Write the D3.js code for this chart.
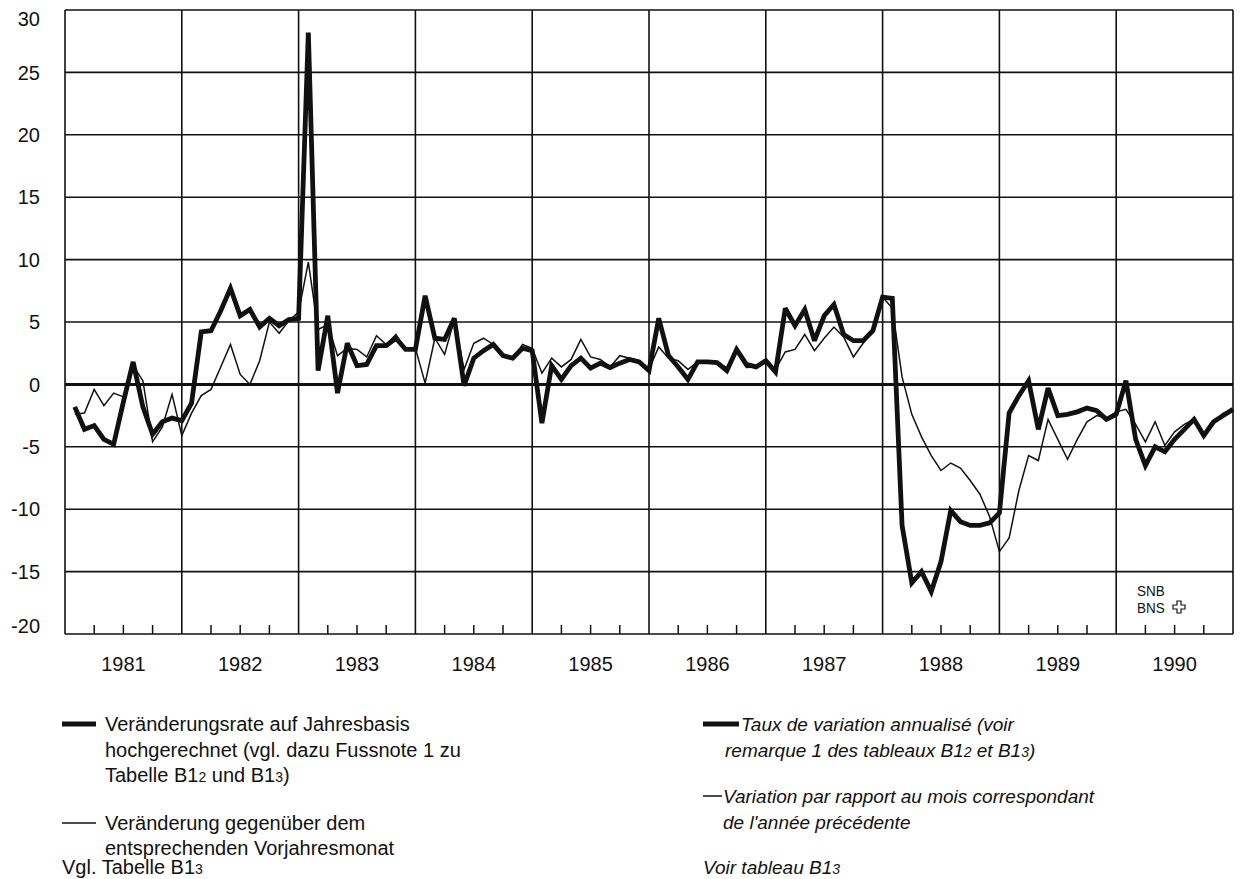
<!DOCTYPE html>
<html>
<head>
<meta charset="utf-8">
<script src="https://cdn.jsdelivr.net/npm/d3@7"></script>
<style>
  body { margin: 0; background: #fff; }
  svg { display: block; }
  text { font-family: "Liberation Sans", Arial, sans-serif; fill: #111; }
</style>
</head>
<body>
<div id="chart"></div>
<script>
// Years on the x axis, one value per month for each series
const years = [1981, 1982, 1983, 1984, 1985, 1986, 1987, 1988, 1989, 1990];
const yTicks = [-20, -15, -10, -5, 0, 5, 10, 15, 20, 25, 30];

// Veränderungsrate auf Jahresbasis hochgerechnet (thick line)
const annualized = [
  -1.8, -3.6, -3.3, -4.4, -4.8, -1.4, 1.8, -1.8, -4.0, -3.0, -2.7, -2.9,
  -1.5, 4.2, 4.3, 5.9, 7.7, 5.5, 6.0, 4.6, 5.3, 4.7, 5.2, 5.3,
  28.2, 1.1, 5.5, -0.7, 3.3, 1.5, 1.6, 3.1, 3.1, 3.7, 2.8, 2.8,
  7.1, 3.7, 3.6, 5.3, -0.1, 2.1, 2.7, 3.2, 2.3, 2.1, 2.9, 2.7,
  -3.1, 1.5, 0.4, 1.5, 2.1, 1.3, 1.7, 1.35, 1.7, 2.0, 1.8, 1.1,
  5.3, 2.3, 1.4, 0.4, 1.8, 1.8, 1.75, 1.1, 2.8, 1.6, 1.4, 1.9,
  1.0, 6.1, 4.7, 6.0, 3.5, 5.5, 6.4, 4.0, 3.5, 3.5, 4.3, 7.0,
  6.9, -11.3, -15.9, -15.0, -16.6, -14.2, -10.1, -11.0, -11.3, -11.3, -11.1, -10.3,
  -2.3, -0.9, 0.3, -3.6, -0.3, -2.5, -2.4, -2.2, -1.9, -2.1, -2.8, -2.4,
  0.3, -4.4, -6.5, -5.0, -5.4, -4.4, -3.6, -2.8, -4.1, -3.0, -2.5, -2.0
];

// Veränderung gegenüber dem entsprechenden Vorjahresmonat (thin line)
const yearOnYear = [
  -2.4, -2.3, -0.4, -1.7, -0.7, -1.0, 1.5, 0.3, -4.6, -3.4, -0.8, -4.1,
  -2.3, -0.9, -0.4, 1.4, 3.2, 0.8, 0.0, 1.9, 5.0, 4.1, 5.1, 5.8,
  9.8, 4.4, 4.8, 2.3, 2.9, 2.8, 2.2, 3.9, 3.2, 4.0, 2.8, 2.9,
  0.1, 3.7, 2.4, 5.2, 1.2, 3.3, 3.7, 3.2, 2.4, 2.0, 3.2, 2.9,
  0.9, 2.1, 1.4, 2.0, 3.6, 2.2, 2.0, 1.4, 2.3, 2.1, 1.9, 1.2,
  3.0, 2.1, 1.9, 1.2, 1.8, 1.75, 1.75, 1.35, 2.6, 1.35, 1.4, 2.0,
  1.2, 2.6, 2.8, 4.0, 2.7, 3.7, 4.6, 3.8, 2.2, 3.3, 4.3, 7.0,
  6.1, 0.6, -2.4, -4.2, -5.7, -6.9, -6.3, -6.7, -7.7, -8.8, -10.6, -13.4,
  -12.3, -8.5, -5.7, -6.1, -2.8, -4.4, -6.0, -4.4, -3.0, -2.5, -2.7, -2.2,
  -2.0, -3.2, -4.6, -3.0, -4.9, -3.8, -3.2, -2.8, -4.0, -3.0, -2.3, -2.0
];

const width = 1240, height = 879;
const plot = { left: 65, right: 1233, top: 10, bottom: 634 };

const svg = d3.select("#chart").append("svg")
  .attr("width", width)
  .attr("height", height);

svg.append("rect").attr("width", width).attr("height", height).attr("fill", "#fff");

// months since Jan 1981; each value sits at the end of its month
const x = d3.scaleLinear()
  .domain([0, years.length * 12])
  .range([plot.left, plot.right]);
const y = d3.scaleLinear()
  .domain([-20, 30])
  .range([plot.bottom, plot.top]);

// horizontal grid
svg.append("g")
  .selectAll("line")
  .data(yTicks)
  .enter().append("line")
  .attr("x1", plot.left).attr("x2", plot.right)
  .attr("y1", d => y(d)).attr("y2", d => y(d))
  .attr("stroke", "#111")
  .attr("stroke-width", d => d === 0 ? 3 : 1.6);

// vertical year boundaries
svg.append("g")
  .selectAll("line")
  .data(d3.range(years.length + 1))
  .enter().append("line")
  .attr("x1", d => x(d * 12)).attr("x2", d => x(d * 12))
  .attr("y1", plot.top).attr("y2", plot.bottom)
  .attr("stroke", "#111")
  .attr("stroke-width", 1.6);

// quarter ticks along the bottom
const quarterTicks = years.flatMap((yr, i) => [3, 6, 9].map(m => i * 12 + m));
svg.append("g")
  .selectAll("line")
  .data(quarterTicks)
  .enter().append("line")
  .attr("x1", d => x(d)).attr("x2", d => x(d))
  .attr("y1", plot.bottom).attr("y2", plot.bottom - 9)
  .attr("stroke", "#111")
  .attr("stroke-width", 1.5);

// y labels
svg.append("g")
  .selectAll("text")
  .data(yTicks)
  .enter().append("text")
  .attr("x", 40)
  .attr("y", d => y(d) + (d === 30 ? 9 : d === -20 ? -8 : 0))
  .attr("dy", "0.36em")
  .attr("text-anchor", "end")
  .style("font-size", "20px")
  .text(d => d);

// year labels
svg.append("g")
  .selectAll("text")
  .data(years)
  .enter().append("text")
  .attr("x", (d, i) => x(i * 12 + 6))
  .attr("y", 671)
  .attr("text-anchor", "middle")
  .style("font-size", "20px")
  .text(d => d);

// series
const line = d3.line()
  .x((d, i) => x(i + 1))
  .y(d => y(d));

svg.append("path")
  .datum(yearOnYear)
  .attr("d", line)
  .attr("fill", "none")
  .attr("stroke", "#111")
  .attr("stroke-width", 1.5)
  .attr("stroke-linejoin", "miter")
  .attr("stroke-miterlimit", 4);

svg.append("path")
  .datum(annualized)
  .attr("d", line)
  .attr("fill", "none")
  .attr("stroke", "#111")
  .attr("stroke-width", 4.8)
  .attr("stroke-linejoin", "miter")
  .attr("stroke-miterlimit", 3);

// SNB / BNS mark (condensed lettering)
const logo = svg.append("g").attr("transform", "translate(1137,0)");
logo.append("text").attr("transform", "translate(0,596) scale(0.9,1)")
  .style("font-size", "15px").text("SNB");
logo.append("text").attr("transform", "translate(0,613) scale(0.9,1)")
  .style("font-size", "15px").text("BNS");
logo.append("path")
  .attr("d", "M40,601 h4 v4 h4 v4 h-4 v4 h-4 v-4 h-4 v-4 h4 z")
  .attr("fill", "#fff")
  .attr("stroke", "#111")
  .attr("stroke-width", 1.2);

// legend
function addText(xp, yp, parts, italic, size) {
  const t = svg.append("text")
    .attr("x", xp).attr("y", yp)
    .style("font-size", (size || 20) + "px")
    .style("font-style", italic ? "italic" : "normal");
  parts.forEach(p => {
    const s = t.append("tspan").text(p.t);
    if (p.sub) s.style("font-size", "14px");
  });
}
function addSwatch(x1, x2, yp, w) {
  svg.append("line")
    .attr("x1", x1).attr("x2", x2).attr("y1", yp).attr("y2", yp)
    .attr("stroke", "#111").attr("stroke-width", w);
}

addSwatch(62, 96, 724, 5);
addText(105, 731, [{ t: "Veränderungsrate auf Jahresbasis" }]);
addText(105, 757, [{ t: "hochgerechnet (vgl. dazu Fussnote 1 zu" }]);
addText(105, 782, [{ t: "Tabelle B1" }, { t: "2", sub: true }, { t: " und B1" }, { t: "3", sub: true }, { t: ")" }]);
addSwatch(62, 96, 823, 1.5);
addText(105, 830, [{ t: "Veränderung gegenüber dem" }]);
addText(105, 855, [{ t: "entsprechenden Vorjahresmonat" }]);
addText(62, 874, [{ t: "Vgl. Tabelle B1" }, { t: "3", sub: true }]);

addSwatch(703, 739, 724, 5);
addText(741, 731, [{ t: "Taux de variation annualisé (voir" }], true, 19);
addText(725, 757, [{ t: "remarque 1 des tableaux B1" }, { t: "2", sub: true }, { t: " et B1" }, { t: "3", sub: true }, { t: ")" }], true, 19);
addSwatch(703, 722, 796, 1.5);
addText(723, 803, [{ t: "Variation par rapport au mois correspondant" }], true, 19);
addText(723, 829, [{ t: "de l'année précédente" }], true, 19);
addText(703, 874, [{ t: "Voir tableau B1" }, { t: "3", sub: true }], true, 19);
</script>
</body>
</html>
